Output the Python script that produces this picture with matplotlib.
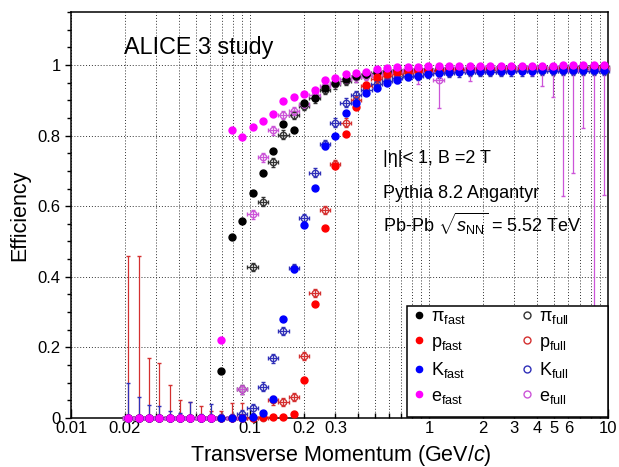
import matplotlib.pyplot as plt
import numpy as np
from matplotlib.lines import Line2D
from matplotlib.patches import Rectangle

plt.rcParams['font.family'] = ['Liberation Sans', 'DejaVu Sans']
plt.rcParams['mathtext.fontset'] = 'custom'
plt.rcParams['mathtext.rm'] = 'Liberation Sans'
plt.rcParams['mathtext.it'] = 'Liberation Sans:italic'
plt.rcParams['mathtext.bf'] = 'Liberation Sans:bold'

# bin centres in pT (GeV/c)
pt = [0.0209, 0.0239, 0.0273, 0.0312, 0.0356, 0.0407, 0.0465, 0.0531, 0.0607, 0.0692,
      0.0791, 0.0904, 0.1033, 0.1180, 0.1346, 0.1538, 0.1758, 0.2009, 0.2296, 0.2618,
      0.2992, 0.3420, 0.3908, 0.4467, 0.5093, 0.5821, 0.6653, 0.7603, 0.8690, 0.9908,
      1.132, 1.294, 1.479, 1.690, 1.928, 2.203, 2.518, 2.877, 3.289, 3.750,
      4.285, 4.898, 5.598, 6.397, 7.295, 8.337, 9.528]
half_bin_dex = 0.0289

pi_fast = [0, 0, 0, 0, 0, 0, 0, 0, 0,
           0.134, 0.513, 0.557, 0.638, 0.693, 0.757, 0.834, 0.815,
           0.893, 0.905, 0.935, 0.948, 0.960, 0.968, 0.975, 0.980,
           0.983, 0.985, 0.987, 0.988, 0.989, 0.990, 0.990, 0.991,
           0.991, 0.992, 0.992, 0.993, 0.993, 0.993, 0.994, 0.994,
           0.994, 0.995, 0.995, 0.995, 0.996, 0.996]
pi_full = [0, 0, 0, 0, 0, 0, 0, 0, 0,
           0, 0, 0.081, 0.427, 0.613, 0.724, 0.803, 0.858,
           0.885, 0.905, 0.930, 0.945, 0.955, 0.965, 0.972, 0.977,
           0.980, 0.982, 0.984, 0.985, 0.986, 0.987, 0.988, 0.988,
           0.989, 0.989, 0.990, 0.990, 0.990, 0.991, 0.991, 0.991,
           0.992, 0.992, 0.992, 0.993, 0.993, 0.993]
p_fast = [0, 0, 0, 0, 0, 0, 0, 0, 0,
          0, 0, 0, 0, 0.003, 0.004, 0.004, 0.011,
          0.108, 0.322, 0.538, 0.713, 0.805, 0.880, 0.943, 0.967,
          0.975, 0.980, 0.983, 0.985, 0.986, 0.987, 0.988, 0.988,
          0.989, 0.989, 0.990, 0.990, 0.990, 0.991, 0.991, 0.991,
          0.992, 0.992, 0.992, 0.992, 0.993, 0.993]
p_full = [0, 0, 0, 0, 0, 0, 0, 0, 0,
          0, 0, 0, 0, 0, 0.050, 0.045, 0.059,
          0.175, 0.354, 0.589, 0.720, 0.837, 0.900, 0.940, 0.960,
          0.970, 0.975, 0.978, 0.980, 0.982, 0.983, 0.984, 0.985,
          0.985, 0.986, 0.986, 0.987, 0.987, 0.987, 0.988, 0.988,
          0.988, 0.988, 0.989, 0.989, 0.989, 0.989]
K_fast = [0, 0, 0, 0, 0, 0, 0, 0, 0,
          0, 0, 0, 0.004, 0.015, 0.054, 0.280, 0.421,
          0.548, 0.652, 0.771, 0.800, 0.865, 0.891, 0.920, 0.934,
          0.948, 0.958, 0.967, 0.969, 0.975, 0.977, 0.980, 0.981,
          0.982, 0.982, 0.983, 0.983, 0.984, 0.984, 0.984, 0.985,
          0.985, 0.985, 0.985, 0.986, 0.986, 0.986]
K_full = [0, 0, 0, 0, 0, 0, 0, 0, 0,
          0, 0, 0.010, 0.027, 0.089, 0.169, 0.247, 0.425,
          0.567, 0.695, 0.775, 0.837, 0.893, 0.915, 0.930, 0.945,
          0.955, 0.962, 0.968, 0.970, 0.974, 0.976, 0.978, 0.979,
          0.980, 0.980, 0.981, 0.981, 0.982, 0.982, 0.982, 0.983,
          0.983, 0.983, 0.983, 0.984, 0.984, 0.984]
e_fast = [0, 0, 0, 0, 0, 0, 0, 0, 0,
          0.221, 0.816, 0.795, 0.824, 0.842, 0.861, 0.899, 0.910,
          0.918, 0.929, 0.958, 0.962, 0.974, 0.978, 0.981, 0.988,
          0.991, 0.993, 0.995, 0.995, 0.996, 0.996, 0.997, 0.997,
          0.997, 0.997, 0.998, 0.998, 0.998, 0.998, 0.998, 0.998,
          0.998, 0.999, 0.999, 0.999, 0.999, 0.999]
e_full = [0, 0, 0, 0, 0, 0, 0, 0, 0,
          0, 0, 0.081, 0.577, 0.738, 0.815, 0.858, 0.870,
          0.890, 0.915, 0.940, 0.950, 0.960, 0.965, 0.968, 0.975,
          0.980, 0.982, 0.985, 0.985, 0.987, 0.958, 0.988, 0.990,
          0.985, 0.990, 0.990, 0.991, 0.991, 0.991, 0.992, 0.990,
          0.990, 0.990, 0.985, 0.992, 0.990, 0.992]

# large error bars (bin index -> size)
p_full_err_up = {0: 0.459, 1: 0.459, 2: 0.169, 3: 0.155, 4: 0.093, 5: 0.051,
                 6: 0.046, 7: 0.034, 8: 0.020, 9: 0.020, 10: 0.043, 11: 0.043}
K_full_err_up = {0: 0.100, 1: 0.060, 2: 0.037, 3: 0.035, 4: 0.020, 5: 0.015,
                 6: 0.046, 7: 0.010, 8: 0.040, 9: 0.010, 10: 0.010}
e_full_err_down = {28: 0.040, 30: 0.080, 33: 0.030, 39: 0.020, 40: 0.050, 41: 0.080,
                   42: 0.360, 43: 0.290, 44: 0.170, 45: 0.900, 46: 0.360}
small_err = 0.012

names = [r'\pi', 'p', 'K', 'e']
fast_series = [pi_fast, p_fast, K_fast, e_fast]
full_series = [pi_full, p_full, K_full, e_full]
fast_colors = ['black', '#ff0000', '#0000ff', '#ff00ff']
full_colors = ['#333333', '#d43030', '#3030b8', '#cc55d8']
err_up = [{}, p_full_err_up, K_full_err_up, {}]
err_down = [{}, {}, {}, e_full_err_down]

x_major = [0.01, 0.1, 1, 10]
x_major_labels = ['0.01', '0.1', '1', '10']
x_minor = [0.02, 0.03, 0.04, 0.05, 0.06, 0.07, 0.08, 0.09,
           0.2, 0.3, 0.4, 0.5, 0.6, 0.7, 0.8, 0.9,
           2, 3, 4, 5, 6, 7, 8, 9]
x_minor_labels = ['0.02', '', '', '', '', '', '', '',
                  '0.2', '0.3', '', '', '', '', '', '',
                  '2', '3', '4', '5', '6', '', '', '']
y_major = [0, 0.2, 0.4, 0.6, 0.8, 1.0]
y_major_labels = ['0', '0.2', '0.4', '0.6', '0.8', '1']

fig = plt.figure(figsize=(6.19, 4.67), dpi=100)
ax = fig.add_axes([71 / 619, 49 / 467, 537 / 619, 406 / 467])
ax.set_xscale('log')

x = np.array(pt)
xerr = [x * (1 - 10 ** -half_bin_dex), x * (10 ** half_bin_dex - 1)]

# full simulation: open markers with bin-width x errors
for vals, col, up, down in zip(full_series, full_colors, err_up, err_down):
    v = np.array(vals)
    lo = np.where(v > 0, small_err, 0.0)
    hi = np.where(v > 0, small_err, 0.0)
    for i, e in up.items():
        hi[i] = e
    for i, e in down.items():
        lo[i] = e
    lo = np.minimum(lo, v)
    ax.errorbar(x, v, yerr=[lo, hi], xerr=xerr, fmt='o', ms=4.6, mfc='none', mec=col,
                mew=1.0, ecolor=col, elinewidth=0.9, capsize=1.5, clip_on=False, zorder=3)

# fast simulation: filled markers
for vals, col in zip(fast_series, fast_colors):
    ax.plot(x, vals, 'o', color=col, ms=5.0, clip_on=False, zorder=4)

ax.set_xlim(0.01, 10)
ax.set_ylim(0, 1.15)
ax.set_xticks(x_major, labels=x_major_labels)
ax.set_xticks(x_minor, labels=x_minor_labels, minor=True)
ax.set_yticks(y_major, labels=y_major_labels)
ax.set_yticks(np.arange(0, 1.151, 0.05), minor=True)

ax.tick_params(axis='x', which='both', direction='in', labelsize=12, pad=2.5, top=False)
ax.tick_params(axis='x', which='major', length=6.5, width=1)
ax.tick_params(axis='x', which='minor', length=3.3, width=1)
ax.tick_params(axis='y', which='both', direction='out', labelsize=12, pad=3, right=False)
ax.tick_params(axis='y', which='major', length=4.3, width=1)
ax.tick_params(axis='y', which='minor', length=3.0, width=1)

ax.grid(True, axis='x', which='both', linestyle=(0, (1, 2)), color='#333333', lw=0.7)
ax.grid(True, axis='y', which='major', linestyle=(0, (1, 2)), color='#333333', lw=0.7)
ax.set_axisbelow(True)
for s in ax.spines.values():
    s.set_linewidth(1.1)

fig.text(20 / 619, 1 - 215 / 467, 'Efficiency', rotation=90, ha='center', va='center', fontsize=15.5)
fig.text(341 / 619, 1 - 460.5 / 467, r'Transverse Momentum (GeV/$c$)', ha='center', va='baseline', fontsize=15.5)

fig.text(124 / 619, 1 - 54 / 467, 'ALICE 3 study', fontsize=16.8, va='baseline')
fig.text(383 / 619, 1 - 163 / 467, '|η|< 1, B =2 T', fontsize=13, va='baseline')
fig.text(383 / 619, 1 - 198.5 / 467, 'Pythia 8.2 Angantyr', fontsize=13, va='baseline')
fig.text(383 / 619, 1 - 232 / 467, r'Pb-Pb $\sqrt{s_{\mathrm{NN}}}$ = 5.52 TeV', fontsize=13, va='baseline')

# legend box (ROOT style, wider than its entries)
box = Rectangle(((407 - 71) / 537, 1 / 406), (608 - 407) / 537, (417 - 306) / 406,
                transform=ax.transAxes, facecolor='white', edgecolor='black', lw=1.1,
                zorder=9, clip_on=False)
ax.add_patch(box)

handles = []
labels = []
for n, col in zip(names, fast_colors):
    handles.append(Line2D([], [], marker='o', ls='none', color=col, ms=4.5))
    labels.append(r'$\mathrm{%s}_{\mathrm{fast}}$' % n)
for n, col in zip(names, full_colors):
    handles.append(Line2D([], [], marker='o', ls='none', mfc='none', mec=col, mew=1.0, ms=5))
    labels.append(r'$\mathrm{%s}_{\mathrm{full}}$' % n)
leg = ax.legend(handles, labels, ncol=2, loc='upper left',
                bbox_to_anchor=((414 - 71) / 537, (418 - 308) / 406),
                fontsize=13, frameon=False, borderpad=0, labelspacing=0.42,
                handlelength=0.5, handletextpad=0.45, columnspacing=3.1, borderaxespad=0)
leg.set_zorder(10)

fig.savefig('out.png', dpi=100)
